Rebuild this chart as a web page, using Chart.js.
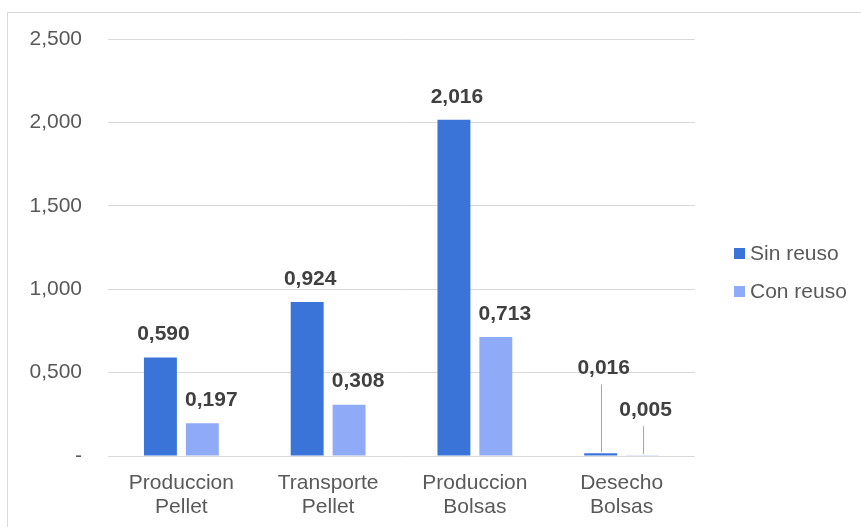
<!DOCTYPE html>
<html>
<head>
<meta charset="utf-8">
<script src="https://cdn.jsdelivr.net/npm/chart.js@4/dist/chart.umd.min.js"></script>
<style>
  html, body { margin: 0; padding: 0; background: #ffffff; }
  #wrap { position: relative; width: 861px; height: 527px; }
</style>
</head>
<body>
<div id="wrap"><canvas id="c" width="861" height="527"></canvas></div>
<script>
// Chart data
const categories = [["Produccion", "Pellet"], ["Transporte", "Pellet"], ["Produccion", "Bolsas"], ["Desecho", "Bolsas"]];
const sinReuso = [0.590, 0.924, 2.016, 0.016];
const conReuso = [0.197, 0.308, 0.713, 0.005];
const seriesNames = ["Sin reuso", "Con reuso"];
const yTicks = [0, 0.5, 1.0, 1.5, 2.0, 2.5];

// Styling
const FONT = "'Liberation Sans', Arial, Helvetica, sans-serif";
const COLORS = ["#3B74D8", "#8FABF7"];
const GRID = "#d9d9d9";
const TEXT = "#595959";
const LABEL = "#404040";
// Horizontal nudge (px) of value labels per series
const labelShift = [3, 9];
// Extra height (px) for labels of very short bars, drawn with a leader line
const leaderLift = [[null, null, null, 85], [null, null, null, 45]];

const fmt = v => v.toFixed(3).replace('.', ',');

// Value labels above each bar, with leader lines for lifted labels
const valueLabels = {
  id: 'valueLabels',
  afterDatasetsDraw(chart) {
    const ctx = chart.ctx;
    ctx.save();
    ctx.font = "bold 21px " + FONT;
    ctx.fillStyle = LABEL;
    ctx.textAlign = 'center';
    ctx.textBaseline = 'middle';
    chart.data.datasets.forEach((ds, di) => {
      const meta = chart.getDatasetMeta(di);
      meta.data.forEach((bar, i) => {
        const lift = leaderLift[di][i];
        let y, x;
        if (lift) {
          y = bar.y - lift;
          x = bar.x + 3;
          ctx.strokeStyle = "#a6a6a6";
          ctx.lineWidth = 1;
          ctx.beginPath();
          ctx.moveTo(Math.round(bar.x) + 0.5, y + 16);
          ctx.lineTo(Math.round(bar.x) + 0.5, bar.y - 1);
          ctx.stroke();
        } else {
          y = bar.y - 23;
          x = bar.x + labelShift[di];
        }
        ctx.fillText(fmt(ds.data[i]), x, y);
      });
    });
    ctx.restore();
  }
};

// Outer frame and legend at the right
const frameLegend = {
  id: 'frameLegend',
  beforeDraw(chart) {
    const ctx = chart.ctx;
    ctx.save();
    ctx.strokeStyle = "#d9d9d9";
    ctx.lineWidth = 1;
    ctx.strokeRect(7.5, 12.5, 900, 600);
    ctx.restore();
  },
  afterDraw(chart) {
    const ctx = chart.ctx;
    ctx.save();
    ctx.font = "21px " + FONT;
    ctx.textAlign = 'left';
    ctx.textBaseline = 'middle';
    chart.data.datasets.forEach((ds, di) => {
      const cy = 254 + di * 38;
      ctx.fillStyle = ds.backgroundColor;
      ctx.fillRect(734, cy - 6, 11, 11);
      ctx.fillStyle = TEXT;
      ctx.fillText(ds.label, 750, cy);
    });
    ctx.restore();
  }
};

new Chart(document.getElementById('c'), {
  type: 'bar',
  data: {
    labels: categories,
    datasets: [
      { label: seriesNames[0], data: sinReuso, backgroundColor: COLORS[0] },
      { label: seriesNames[1], data: conReuso, backgroundColor: COLORS[1] }
    ]
  },
  options: {
    responsive: false,
    animation: false,
    devicePixelRatio: 1,
    layout: { padding: { left: 0, top: 39, right: 166, bottom: 0 } },
    datasets: { bar: { categoryPercentage: 0.571, barPercentage: 0.786 } },
    plugins: {
      legend: { display: false },
      tooltip: { enabled: false }
    },
    scales: {
      x: {
        grid: { display: false },
        border: { display: false },
        ticks: {
          color: TEXT,
          font: { family: FONT, size: 21, lineHeight: 1.15 },
          padding: 7,
          maxRotation: 0,
          autoSkip: false
        },
        afterFit(s) { s.height = 71; }
      },
      y: {
        min: 0,
        max: 2.5,
        afterBuildTicks(s) { s.ticks = yTicks.map(v => ({ value: v })); },
        grid: { color: GRID, lineWidth: 1, drawTicks: false },
        border: { display: false },
        ticks: {
          color: TEXT,
          font: { family: FONT, size: 21 },
          padding: 26,
          callback: v => v === 0 ? '-' : fmt(v)
        },
        afterFit(s) { s.width = 108; }
      }
    }
  },
  plugins: [valueLabels, frameLegend]
});
</script>
</body>
</html>
